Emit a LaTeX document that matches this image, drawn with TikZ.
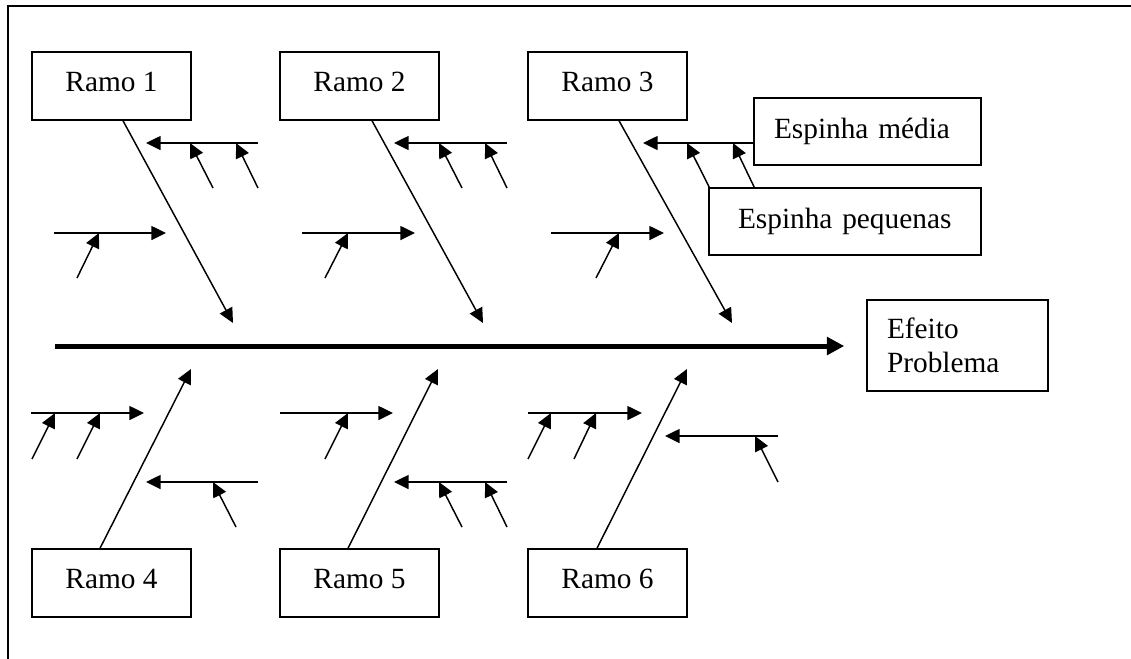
\documentclass[tikz,border=0pt]{standalone}
\usepackage{fontspec}
\setmainfont{Liberation Serif}
\usetikzlibrary{arrows.meta,calc}

\begin{document}
\begin{tikzpicture}[x=0.75pt,y=-0.75pt,
  box/.style={draw, line width=1.1pt, inner sep=0pt, font=\fontsize{22}{25.5}\selectfont},
  ramo/.style={box, minimum width=119.25pt, minimum height=51pt, text depth=6pt},
  bone/.style={line width=1.1pt, -{Triangle[length=11pt,width=10.5pt]}},
  spine/.style={line width=3.75pt, -{Triangle[length=13pt,width=13pt]}}]

\useasboundingbox (0,0) rectangle (1131,658);
\draw[line width=1.2pt] (8,662) -- (8,6) -- (1135,6);

% boxes
\node[ramo] (r1) at (111.5,86) {Ramo 1};
\node[ramo] (r2) at (359.5,86) {Ramo 2};
\node[ramo] (r3) at (607.5,86) {Ramo 3};
\node[ramo] (r4) at (111.5,583) {Ramo 4};
\node[ramo] (r5) at (359.5,583) {Ramo 5};
\node[ramo] (r6) at (607.5,583) {Ramo 6};
\node[box, minimum height=50.25pt, align=left, text width=140.25pt, inner xsep=15pt]
  (espm) at (867.5,131.5) {\mbox{Espinha média}};
\node[box, minimum height=50.25pt, align=left, text width=160.5pt, inner xsep=21.75pt]
  (espp) at (845,221.5) {\mbox{Espinha pequenas}};
\node[box, minimum height=68.25pt, align=left, text width=105.75pt, inner xsep=15pt]
  (efeito) at (957.5,345.5) {Efeito\\Problema};

% main spine
\coordinate (tail) at (55,346);
\draw[spine, shorten >=16.5pt] (tail) -- (tail -| efeito.west);

% branch tips
\coordinate (t1) at (233,323);
\coordinate (t2) at (483,323);
\coordinate (t3) at (732,323);
\coordinate (t4) at (191,369);
\coordinate (t5) at (438,369);
\coordinate (t6) at (687,369);
\draw[bone] ($(r1.south)+(11.5,0)$) -- (t1);
\draw[bone] ($(r2.south)+(12.5,0)$) -- (t2);
\draw[bone] ($(r3.south)+(11.5,0)$) -- (t3);
\draw[bone] ($(r4.north)+(-11.5,0)$) -- (t4);
\draw[bone] ($(r5.north)+(-11.5,0)$) -- (t5);
\draw[bone] ($(r6.north)+(-10.5,0)$) -- (t6);

% bones of branch 1
\coordinate (a1s) at (258,143); \coordinate (a1e) at (146,143);
\coordinate (a1p) at (213,188); \coordinate (a1q) at (190,143);
\coordinate (a1r) at (258,188); \coordinate (a1t) at (236,143);
\draw[bone] (a1s) -- (a1e);
\draw[bone] (a1p) -- (a1q);
\draw[bone] (a1r) -- (a1t);
\coordinate (b1s) at (54,233); \coordinate (b1e) at (166,233);
\coordinate (b1p) at (77,278); \coordinate (b1q) at (99,233);
\draw[bone] (b1s) -- (b1e);
\draw[bone] (b1p) -- (b1q);

% bones of branch 2
\coordinate (a2s) at (507,143); \coordinate (a2e) at (394,143);
\coordinate (a2p) at (462,188); \coordinate (a2q) at (439,143);
\coordinate (a2r) at (507,188); \coordinate (a2t) at (485,143);
\draw[bone] (a2s) -- (a2e);
\draw[bone] (a2p) -- (a2q);
\draw[bone] (a2r) -- (a2t);
\coordinate (b2s) at (302,233); \coordinate (b2e) at (415,233);
\coordinate (b2p) at (325,278); \coordinate (b2q) at (348,233);
\draw[bone] (b2s) -- (b2e);
\draw[bone] (b2p) -- (b2q);

% bones of branch 3
\coordinate (a3e) at (643,143);
\coordinate (a3q) at (687,143);
\coordinate (a3t) at (733,143);
\draw[bone] ($(espm.west)+(0,11.5)$) -- (a3e);
\draw[bone] ($(espp.north west)+(1,0)$) -- (a3q);
\draw[bone] ($(espp.north west)+(46,0)$) -- (a3t);
\coordinate (b3s) at (551,233); \coordinate (b3e) at (664,233);
\coordinate (b3p) at (596,278); \coordinate (b3q) at (619,233);
\draw[bone] (b3s) -- (b3e);
\draw[bone] (b3p) -- (b3q);

% bones of branch 4
\coordinate (a4s) at (31,413); \coordinate (a4e) at (144,413);
\coordinate (a4p) at (32,459); \coordinate (a4q) at (55,413);
\coordinate (a4r) at (77,459); \coordinate (a4t) at (100,413);
\draw[bone] (a4s) -- (a4e);
\draw[bone] (a4p) -- (a4q);
\draw[bone] (a4r) -- (a4t);
\coordinate (b4s) at (258,482); \coordinate (b4e) at (146,482);
\coordinate (b4p) at (236,527); \coordinate (b4q) at (213,482);
\draw[bone] (b4s) -- (b4e);
\draw[bone] (b4p) -- (b4q);

% bones of branch 5
\coordinate (a5s) at (280,413); \coordinate (a5e) at (393,413);
\coordinate (a5p) at (325,459); \coordinate (a5q) at (348,413);
\draw[bone] (a5s) -- (a5e);
\draw[bone] (a5p) -- (a5q);
\coordinate (b5s) at (507,482); \coordinate (b5e) at (394,482);
\coordinate (b5p) at (462,527); \coordinate (b5q) at (439,482);
\coordinate (b5r) at (507,527); \coordinate (b5t) at (485,482);
\draw[bone] (b5s) -- (b5e);
\draw[bone] (b5p) -- (b5q);
\draw[bone] (b5r) -- (b5t);

% bones of branch 6
\coordinate (a6s) at (528,413); \coordinate (a6e) at (642,413);
\coordinate (a6p) at (528,459); \coordinate (a6q) at (551,413);
\coordinate (a6r) at (574,459); \coordinate (a6t) at (596,413);
\draw[bone] (a6s) -- (a6e);
\draw[bone] (a6p) -- (a6q);
\draw[bone] (a6r) -- (a6t);
\coordinate (b6s) at (778,436); \coordinate (b6e) at (665,436);
\coordinate (b6p) at (778,482); \coordinate (b6q) at (755,436);
\draw[bone] (b6s) -- (b6e);
\draw[bone] (b6p) -- (b6q);

\end{tikzpicture}
\end{document}
